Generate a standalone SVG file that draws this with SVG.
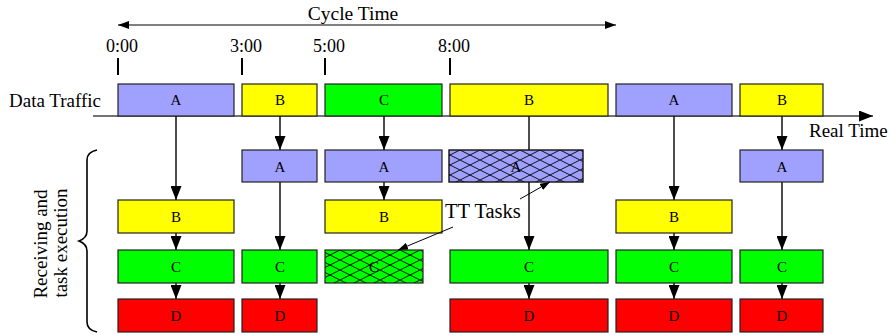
<svg xmlns="http://www.w3.org/2000/svg" width="890" height="335" viewBox="0 0 890 335">
<style>
text{font-family:"Liberation Serif","Times New Roman","DejaVu Serif",serif;fill:#000}
.lbl{font-size:19px}
.tick{font-size:18px;text-anchor:middle}
.bx{font-size:15px;text-anchor:middle}
.box{stroke:#222;stroke-width:1.2}
.a{fill:#a0a0ff}.b{fill:#ffff00}.c{fill:#00ff00}.d{fill:#ff0000}
.ln{stroke:#000;stroke-width:1.4;fill:none}
.thin{stroke:#000;stroke-width:1;fill:none}
</style>
<defs>
<marker id="ah" markerUnits="userSpaceOnUse" markerWidth="14" markerHeight="11" refX="14" refY="5.5" orient="auto"><path d="M0,0 L14,5.5 L0,11 z" fill="#000"/></marker>
<marker id="sm" markerUnits="userSpaceOnUse" markerWidth="11" markerHeight="8" refX="11" refY="4" orient="auto-start-reverse"><path d="M0,0 L11,4 L0,8 z" fill="#000"/></marker>
<marker id="tt" markerUnits="userSpaceOnUse" markerWidth="10" markerHeight="7" refX="10" refY="3.5" orient="auto"><path d="M0,0 L10,3.5 L0,7 z" fill="#000"/></marker>
<pattern id="hatch" patternUnits="userSpaceOnUse" width="20" height="10"><path d="M0,0 L20,10 M0,10 L20,0" stroke="#000" stroke-width="0.9"/></pattern>
</defs>
<g id="header">
<text x="353" y="20" text-anchor="middle" style="font-size:19.5px">Cycle Time</text>
<line class="thin" x1="118" y1="25" x2="616" y2="25" marker-start="url(#sm)" marker-end="url(#sm)"/>
<text class="tick" x="122" y="52">0:00</text>
<text class="tick" x="246" y="52">3:00</text>
<text class="tick" x="329" y="52">5:00</text>
<text class="tick" x="454" y="52">8:00</text>
<g stroke="#000" stroke-width="2">
<line x1="118" y1="58" x2="118" y2="75"/>
<line x1="242" y1="58" x2="242" y2="75"/>
<line x1="325" y1="58" x2="325" y2="75"/>
<line x1="450" y1="58" x2="450" y2="75"/>
</g>
<text class="lbl" x="9" y="107">Data Traffic</text>
<text class="lbl" x="809" y="137">Real Time</text>
</g>

<g id="brace-label">
<path d="M97,150 Q87,152 87,160 L87,231 Q87,238 79,241 Q87,244 87,251 L87,322 Q87,330 97,332" fill="none" stroke="#000" stroke-width="1.6"/>
<text class="lbl" transform="translate(47,244) rotate(-90)" text-anchor="middle">Receiving and</text>
<text class="lbl" transform="translate(67,243) rotate(-90)" text-anchor="middle">task execution</text>
</g>

<g id="connectors">
<line x1="93" y1="116" x2="873" y2="116" stroke="#444" stroke-width="1.4" marker-end="url(#ah)"/>
<line class="ln" x1="176" y1="116" x2="176" y2="200" marker-end="url(#ah)"/>
<line class="ln" x1="176" y1="233" x2="176" y2="250" marker-end="url(#ah)"/>
<line class="ln" x1="176" y1="283" x2="176" y2="299" marker-end="url(#ah)"/>
<line class="ln" x1="280" y1="116" x2="280" y2="150" marker-end="url(#ah)"/>
<line class="ln" x1="280" y1="182" x2="280" y2="250" marker-end="url(#ah)"/>
<line class="ln" x1="280" y1="283" x2="280" y2="299" marker-end="url(#ah)"/>
<line class="ln" x1="384" y1="116" x2="384" y2="150" marker-end="url(#ah)"/>
<line class="ln" x1="384" y1="182" x2="384" y2="200" marker-end="url(#ah)"/>
<line class="ln" x1="529" y1="116" x2="529" y2="250" marker-end="url(#ah)"/>
<line class="ln" x1="529" y1="283" x2="529" y2="299" marker-end="url(#ah)"/>
<line class="ln" x1="674" y1="116" x2="674" y2="200" marker-end="url(#ah)"/>
<line class="ln" x1="674" y1="233" x2="674" y2="250" marker-end="url(#ah)"/>
<line class="ln" x1="674" y1="283" x2="674" y2="299" marker-end="url(#ah)"/>
<line class="ln" x1="782" y1="116" x2="782" y2="150" marker-end="url(#ah)"/>
<line class="ln" x1="782" y1="182" x2="782" y2="250" marker-end="url(#ah)"/>
<line class="ln" x1="782" y1="283" x2="782" y2="299" marker-end="url(#ah)"/>
</g>

<g id="traffic">
<g id="t1"><rect class="box a" x="118" y="84" width="116" height="32"/><text class="bx" x="176" y="105">A</text></g>
<g id="t2"><rect class="box b" x="242" y="84" width="75" height="32"/><text class="bx" x="280" y="105">B</text></g>
<g id="t3"><rect class="box c" x="325" y="84" width="117" height="32"/><text class="bx" x="384" y="105">C</text></g>
<g id="t4"><rect class="box b" x="450" y="84" width="158" height="32"/><text class="bx" x="529" y="105">B</text></g>
<g id="t5"><rect class="box a" x="616" y="84" width="116" height="32"/><text class="bx" x="674" y="105">A</text></g>
<g id="t6"><rect class="box b" x="740" y="84" width="83" height="32"/><text class="bx" x="782" y="105">B</text></g>
</g>

<g id="tasks">
<g id="c1b"><rect class="box b" x="118" y="200" width="116" height="33"/><text class="bx" x="176" y="222">B</text></g>
<g id="c1c"><rect class="box c" x="118" y="250" width="116" height="33"/><text class="bx" x="176" y="272">C</text></g>
<g id="c1d"><rect class="box d" x="118" y="299" width="116" height="33"/><text class="bx" x="176" y="321">D</text></g>
<g id="c2a"><rect class="box a" x="242" y="150" width="75" height="32"/><text class="bx" x="280" y="172">A</text></g>
<g id="c2c"><rect class="box c" x="242" y="250" width="75" height="33"/><text class="bx" x="280" y="272">C</text></g>
<g id="c2d"><rect class="box d" x="242" y="299" width="75" height="33"/><text class="bx" x="280" y="321">D</text></g>
<g id="c3a"><rect class="box a" x="325" y="150" width="117" height="32"/><text class="bx" x="384" y="172">A</text></g>
<g id="c3b"><rect class="box b" x="325" y="200" width="117" height="33"/><text class="bx" x="384" y="222">B</text></g>
<g id="c3c"><rect class="c" x="325" y="250" width="98" height="33"/><text class="bx" x="374" y="272">C</text><rect x="325" y="250" width="98" height="33" fill="url(#hatch)" stroke="#222" stroke-width="1.2"/></g>
<g id="c4a"><rect class="a" x="449" y="150" width="134" height="32"/><text class="bx" x="516" y="172">A</text><rect x="449" y="150" width="134" height="32" fill="url(#hatch)" stroke="#111" stroke-width="1.4"/></g>
<g id="c4c"><rect class="box c" x="450" y="250" width="158" height="33"/><text class="bx" x="529" y="272">C</text></g>
<g id="c4d"><rect class="box d" x="450" y="299" width="158" height="33"/><text class="bx" x="529" y="321">D</text></g>
<g id="c5b"><rect class="box b" x="616" y="200" width="116" height="33"/><text class="bx" x="674" y="222">B</text></g>
<g id="c5c"><rect class="box c" x="616" y="250" width="116" height="33"/><text class="bx" x="674" y="272">C</text></g>
<g id="c5d"><rect class="box d" x="616" y="299" width="116" height="33"/><text class="bx" x="674" y="321">D</text></g>
<g id="c6a"><rect class="box a" x="740" y="150" width="83" height="32"/><text class="bx" x="782" y="172">A</text></g>
<g id="c6c"><rect class="box c" x="740" y="250" width="83" height="33"/><text class="bx" x="782" y="272">C</text></g>
<g id="c6d"><rect class="box d" x="740" y="299" width="83" height="33"/><text class="bx" x="782" y="321">D</text></g>
</g>

<g id="tt-label">
<text x="445" y="218" style="font-size:20.5px">TT Tasks</text>
<line class="thin" x1="520" y1="199" x2="550" y2="182" marker-end="url(#tt)"/>
<line class="thin" x1="453" y1="227" x2="398" y2="250" marker-end="url(#tt)"/>
</g>
</svg>
